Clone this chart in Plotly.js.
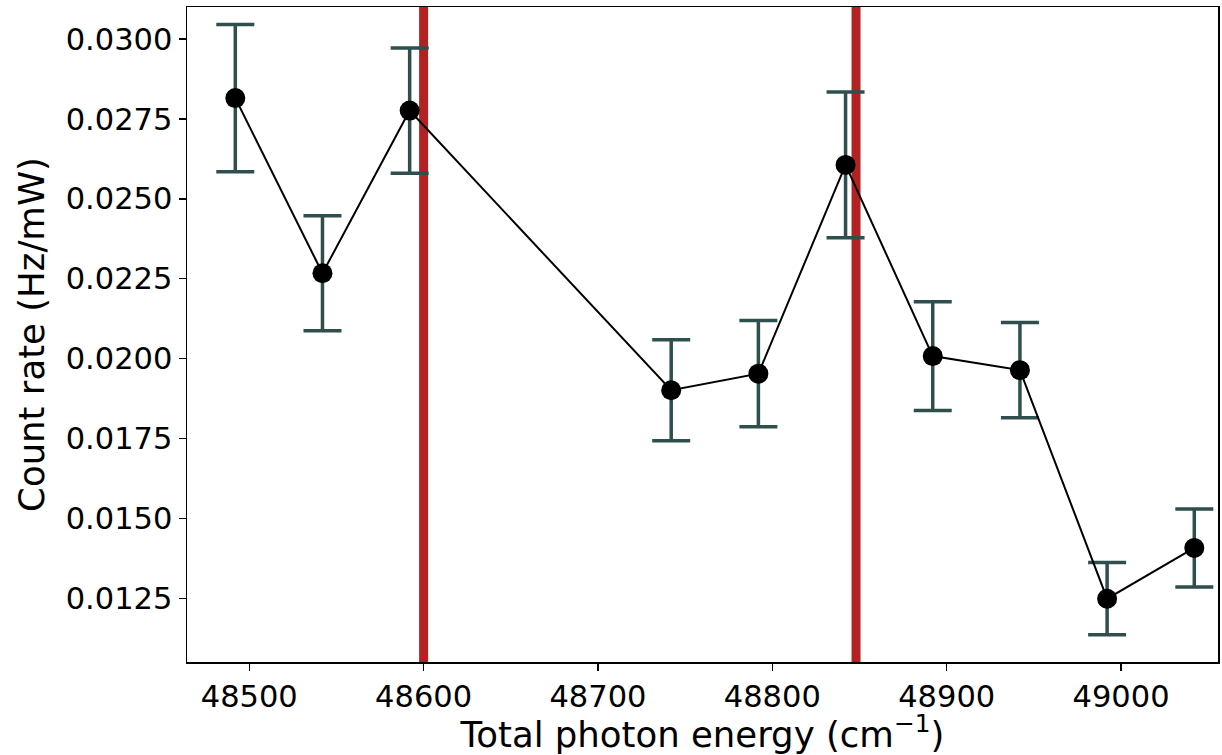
<!DOCTYPE html>
<html>
<head>
<meta charset="utf-8">
<script src="https://cdn.plot.ly/plotly-3.0.1.min.js"></script>
<style>html,body{margin:0;padding:0;background:#fff;}#chart{width:1222px;height:755px;}</style>
</head>
<body>
<div id="chart"></div>
<script>
// Data
const energy = [48492, 48542, 48592, 48742, 48792, 48842, 48892, 48942, 48992, 49042];
const countRate = [0.02815, 0.02267, 0.02776, 0.01901, 0.01953, 0.02606, 0.02008, 0.01964, 0.01249, 0.01408];
const countErr = [0.00230, 0.00180, 0.00196, 0.00158, 0.00166, 0.00228, 0.00170, 0.00149, 0.00113, 0.00122];
const markerLines = [48600, 48848];

const traces = [{
  x: energy,
  y: countRate,
  type: 'scatter',
  mode: 'lines+markers',
  line: {color: '#000000', width: 2},
  marker: {color: '#000000', size: 20},
  error_y: {type: 'data', array: countErr, visible: true, color: '#2f4f4f', thickness: 3.5, width: 19},
  showlegend: false,
  hoverinfo: 'x+y'
}];

const shapes = markerLines.map(v => ({
  type: 'line', xref: 'x', yref: 'paper', x0: v, x1: v, y0: 0, y1: 1,
  line: {color: '#b22222', width: 9}, layer: 'below'
}));

const layout = {
  width: 1222, height: 755,
  margin: {l: 187, r: 4, t: 7, b: 93},
  paper_bgcolor: '#ffffff', plot_bgcolor: '#ffffff',
  font: {family: 'DejaVu Sans, sans-serif', color: '#000000', size: 30},
  showlegend: false,
  shapes: shapes,
  xaxis: {
    range: [48464.3, 49055.6],
    tickmode: 'linear', tick0: 48500, dtick: 100,
    tickformat: 'd',
    ticks: 'outside', ticklen: 7, tickwidth: 1.5, tickcolor: '#000',
    showline: true, linecolor: '#000', linewidth: 1.5, mirror: true,
    showgrid: false, zeroline: false,
    tickfont: {size: 30.5},
    title: {text: 'Total photon energy (cm<sup>−1</sup>)', font: {size: 35.5}, standoff: 9},
    automargin: false
  },
  yaxis: {
    range: [0.01051, 0.0310],
    tickmode: 'linear', tick0: 0.0125, dtick: 0.0025,
    tickformat: '.4f',
    ticks: 'outside', ticklen: 7, tickwidth: 1.5, tickcolor: '#000',
    showline: true, linecolor: '#000', linewidth: 1.5, mirror: true,
    showgrid: false, zeroline: false,
    tickfont: {size: 30.5},
    title: {text: 'Count rate (Hz/mW)', font: {size: 35.5}, standoff: 10},
    automargin: false
  }
};

Plotly.newPlot('chart', traces, layout, {staticPlot: true, displayModeBar: false});
</script>
</body>
</html>
